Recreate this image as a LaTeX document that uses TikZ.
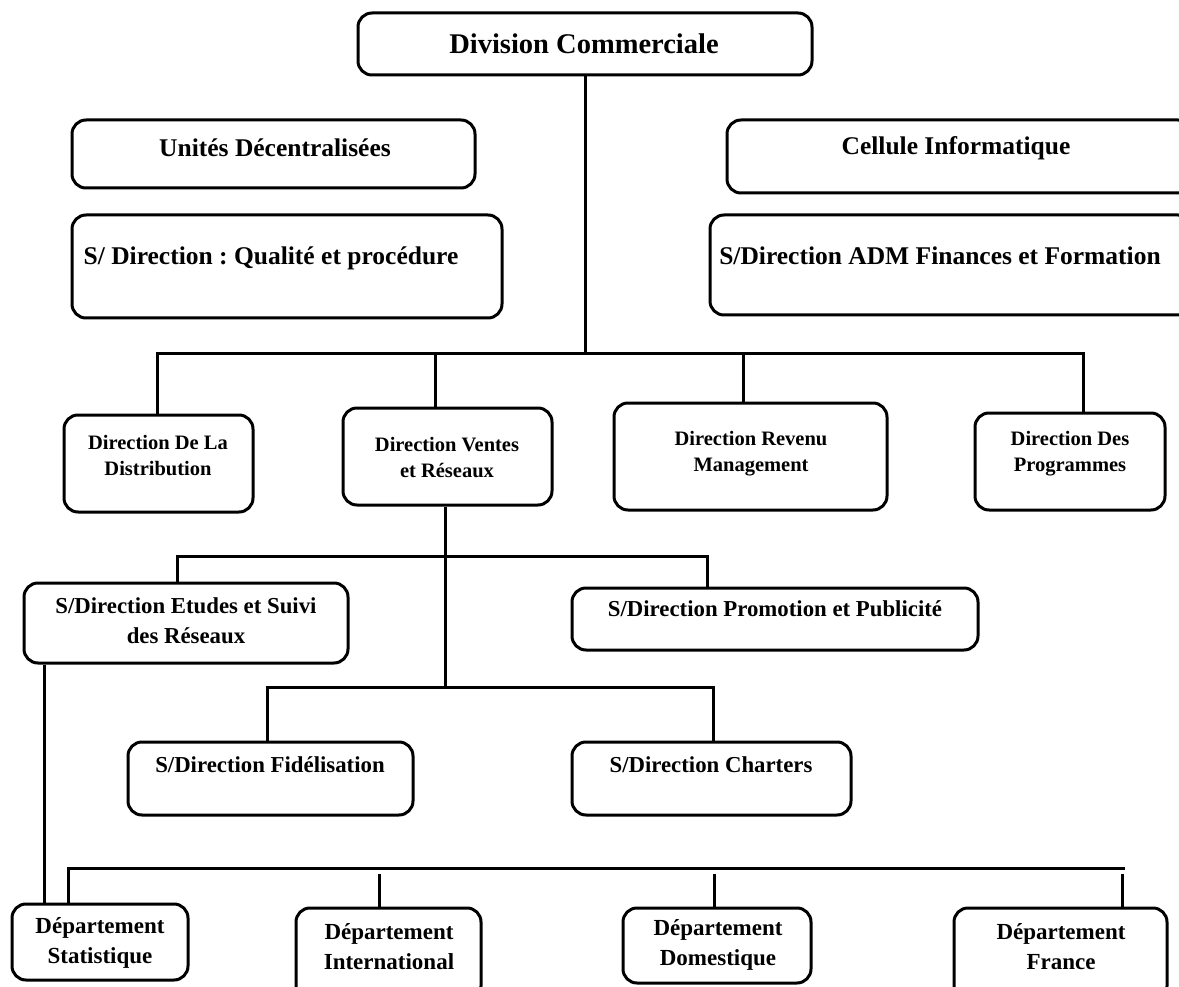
\documentclass[tikz,border=0pt]{standalone}
\usepackage{fontspec}
\setmainfont{Liberation Serif}
\usetikzlibrary{fit}
\frenchspacing
\begin{document}
\begin{tikzpicture}[x=1pt,y=-1pt,
  box/.style={draw, line width=3pt, rounded corners=14pt, inner sep=0pt},
  link/.style={line width=3pt},
  txt/.style={inner sep=0pt, align=center},
  big/.style={txt, font=\bfseries\fontsize{28.5}{33}\selectfont},
  head/.style={txt, font=\bfseries\fontsize{25.5}{30}\selectfont},
  dirtxt/.style={txt, font=\bfseries\fontsize{20.5}{26}\selectfont},
  subtxt/.style={txt, font=\bfseries\fontsize{22.8}{30}\selectfont},
  deptxt/.style={txt, font=\bfseries\fontsize{23}{30}\selectfont},
]
\useasboundingbox (0,0) rectangle (1179,987);

% top of the chart
\node[box, fit={(358,13) (812,75)}] (dc) {};
\node[big] (dc-t) at (584,44) {Division Commerciale};

% staff units on both sides
\node[box, fit={(72,120) (475,188)}] (ud) {};
\node[head] (ud-t) at (275,148) {Unités Décentralisées};
\node[box, fit={(72,215) (502,318)}] (qp) {};
\node[head] (qp-t) at (271,258) {S/ Direction : Qualité et procédure};
\node[box, fit={(727,120) (1192,193)}] (ci) {};
\node[head] (ci-t) at (956,148) {Cellule Informatique};
\node[box, fit={(710,215) (1192,315)}] (adm) {};
\node[head] (adm-t) at (940,256) {S/Direction ADM Finances et Formation};

% directions
\node[box, fit={(64,415) (253,512)}] (dd) {};
\node[dirtxt] (dd-t) at (158,456) {Direction De La\\Distribution};
\node[box, fit={(343,408) (552,505)}] (dv) {};
\node[dirtxt] (dv-t) at (447,458) {Direction Ventes\\et Réseaux};
\node[box, fit={(614,403) (887,510)}] (dr) {};
\node[dirtxt] (dr-t) at (751,454) {Direction Revenu\\Management};
\node[box, fit={(975,413) (1165,510)}] (dp) {};
\node[dirtxt] (dp-t) at (1070,454) {Direction Des\\Programmes};

% sub-directions
\node[box, fit={(24,583) (348,663)}] (es) {};
\node[subtxt] (es-t) at (186,621) {S/Direction Etudes et Suivi\\des Réseaux};
\node[box, fit={(572,588) (978,650)}] (pp) {};
\node[subtxt] (pp-t) at (775,609) {S/Direction Promotion et Publicité};
\node[box, fit={(128,742) (413,815)}] (fi) {};
\node[subtxt] (fi-t) at (270,765) {S/Direction Fidélisation};
\node[box, fit={(572,742) (851,815)}] (ch) {};
\node[subtxt] (ch-t) at (711,765) {S/Direction Charters};

% departments
\node[box, fit={(12,904) (188,980)}] (st) {};
\node[deptxt] (st-t) at (100,943) {Département\\Statistique};
\node[box, fit={(296,908) (481,1000)}] (in) {};
\node[deptxt] (in-t) at (389,947) {Département\\International};
\node[box, fit={(623,908) (811,983)}] (do) {};
\node[deptxt] (do-t) at (718,945) {Département\\Domestique};
\node[box, fit={(954,908) (1167,1000)}] (fr) {};
\node[deptxt] (fr-t) at (1061,947) {Département\\France};

% bar joints
\coordinate (b1l) at (157,353);
\coordinate (b1r) at (1083,353);
\coordinate (b1v) at (435,353);
\coordinate (b1m) at (743,353);
\coordinate (b2l) at (177,556);
\coordinate (b2r) at (707,556);
\coordinate (b3l) at (267,687);
\coordinate (b3r) at (713,687);
\coordinate (b3m) at (445,687);
\coordinate (b4l) at (68,868);
\coordinate (b4r) at (1125,868);
\coordinate (lv) at (44,760);
\coordinate (g1) at (379,874);
\coordinate (g2) at (714,874);
\coordinate (g3) at (1122,874);

% connectors
\draw[link] (dc.south) -- (dc.south |- b1l);
\draw[link] (b1l |- dd.north) -- (b1l) -- (b1r) -- (b1r |- dp.north);
\draw[link] (b1v) -- (b1v |- dv.north);
\draw[link] (b1m) -- (b1m |- dr.north);
\draw[link] (b3m |- dv.south) -- (b3m);
\draw[link] (b2l |- es.north) -- (b2l) -- (b2r) -- (b2r |- pp.north);
\draw[link] (b3l |- fi.north) -- (b3l) -- (b3r) -- (b3r |- ch.north);
\draw[link] (lv |- es.south) -- (lv |- st.north);
\draw[link] (b4l |- st.north) -- (b4l) -- (b4r);
\draw[link] (g1) -- (g1 |- in.north);
\draw[link] (g2) -- (g2 |- do.north);
\draw[link] (g3) -- (g3 |- fr.north);
\end{tikzpicture}
\end{document}
